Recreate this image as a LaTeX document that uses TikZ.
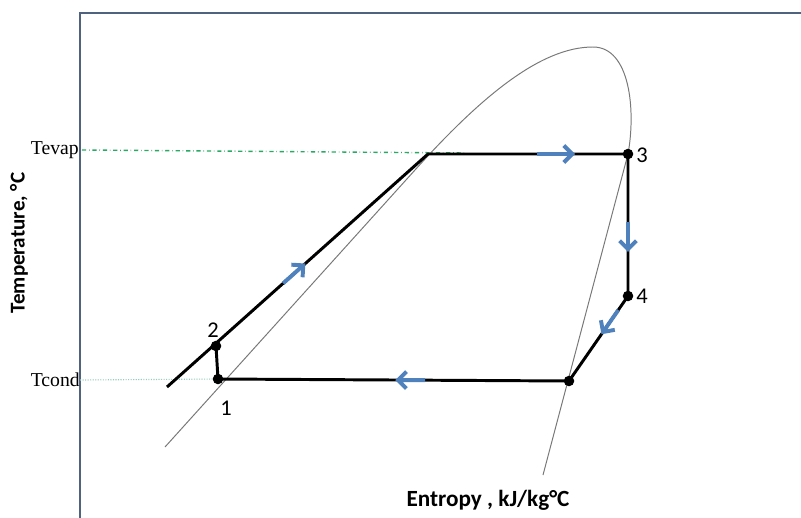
\documentclass[tikz,border=0pt]{standalone}
\usepackage{fontspec}
\setmainfont{Liberation Serif}
\newfontfamily\labelfont{Carlito}
\usetikzlibrary{arrows.meta, calc}
\definecolor{framecol}{RGB}{79,98,126}
\definecolor{flow}{RGB}{79,129,189}
\definecolor{evapcol}{RGB}{40,170,100}
\definecolor{condcol}{RGB}{150,205,190}
\definecolor{domecol}{RGB}{120,120,120}
\tikzset{
  pt/.style={circle, fill=black, inner sep=0pt, minimum size=7.5pt},
  num/.style={font=\labelfont\fontsize{16}{18}\selectfont},
  axislabel/.style={font=\labelfont\bfseries\fontsize{15}{17}\selectfont},
  templabel/.style={font=\fontsize{14}{16}\selectfont, anchor=east, inner sep=0pt},
  cycleline/.style={draw, line width=2.1pt, line join=round},
  flowarrow/.style={draw=flow, line width=2.8pt, -{Straight Barb[length=6pt,width=12pt]}},
  domeline/.style={draw=domecol, line width=0.7pt},
}
\begin{document}
\begin{tikzpicture}[x=0.025cm, y=-0.025cm]
  \useasboundingbox (0,0) rectangle (801,518);
  \draw[framecol, line width=1.8pt] (80,518) -- (80,13) -- (801,13);

  \draw[domeline] (165,447) -- (415,170) .. controls (480,98) and (540,47) .. (593,47)
    .. controls (630,47) and (636,110) .. (628,154) -- (543,475);

  \node[pt] (p1) at (218,379) {};
  \node[pt] (p2) at (216,346) {};
  \node[pt] (p3) at (628,154) {};
  \node[pt] (p4) at (628,296) {};
  \node[pt] (p5) at (569,381) {};
  \coordinate (sat) at (428,154);
  \coordinate (subc) at (167,387);
  \coordinate (evapend) at (465,153);

  \node[templabel] (tevap) at (79,150) {Tevap};
  \node[templabel] (tcond) at (80,380) {Tcond};
  \draw[evapcol, dash dot, line width=1pt] (tevap.east) ++(3,0) -- (evapend);
  \draw[condcol, densely dotted, line width=0.8pt] (tcond.east) -- (p1);

  \draw[cycleline] (subc) -- (sat) -- (p3.center) -- (p4.center) -- (p5.center) -- (p1.center) -- (p2.center);

  \draw[flowarrow] ($(sat)!0.545!(p3)$) -- ($(sat)!0.735!(p3)$);
  \draw[flowarrow] ($(p3)!0.48!(p4)$) -- ($(p3)!0.69!(p4)$);
  \draw[flowarrow] ($(p4)!0.165!(p5)$) -- ($(p4)!0.45!(p5)$);
  \draw[flowarrow] ($(p5)!0.41!(p1)$) -- ($(p5)!0.495!(p1)$);
  \draw[flowarrow] ($(subc)!0.445!(sat)$) -- ($(subc)!0.53!(sat)$);

  \node[num] (n1) at (226,408) {1};
  \node[num] (n2) at (213,330) {2};
  \node[num] (n3) at (642,155) {3};
  \node[num] (n4) at (642,296) {4};

  \node[axislabel, rotate=90] (tlabel) at (19,243) {Temperature, °C};
  \node[axislabel, font=\labelfont\bfseries\fontsize{16.5}{18}\selectfont] (slabel) at (488,500) {Entropy , kJ/kg°C};
\end{tikzpicture}
\end{document}
